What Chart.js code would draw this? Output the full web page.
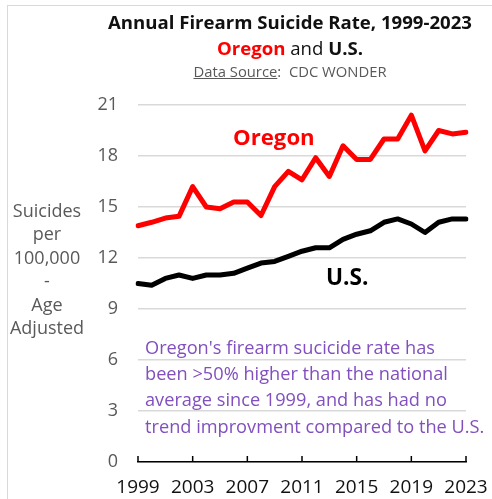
<!DOCTYPE html>
<html>
<head>
<meta charset="utf-8">
<script src="https://cdn.jsdelivr.net/npm/chart.js@4.4.1/dist/chart.umd.min.js"></script>
<style>
  html, body { margin: 0; padding: 0; background: #fff; }
  #wrap { position: relative; width: 492px; height: 499px; overflow: hidden; font-family: "Open Sans", sans-serif; }
  #frame { position: absolute; left: 7px; top: 5px; width: 500px; height: 510px; border: 1px solid #d9d9d9; box-sizing: border-box; }
  canvas { position: absolute; left: 0; top: 0; }
  .t { position: absolute; white-space: nowrap; }
  #title { left: 90px; width: 400px; top: 9px; text-align: center; font-weight: bold; font-size: 18.6px; color: #111; line-height: 26px; }
  #source { left: 90px; width: 400px; top: 60px; text-align: center; font-size: 14.8px; color: #595959; line-height: 22px; }
  #ytitle { left: 0px; width: 94px; top: 199px; text-align: center; font-size: 18px; color: #595959; line-height: 23.4px; }
  #note { left: 145px; top: 334px; font-size: 18.2px; color: #8250BE; line-height: 26.2px; }
  #lblOR { left: 233px; top: 121px; font-weight: bold; font-size: 22.2px; color: #ff0000; }
  #lblUS { left: 326px; top: 261px; font-weight: bold; font-size: 22.6px; color: #000; }
</style>
</head>
<body>
<div id="wrap">
  <div id="frame"></div>
  <canvas id="c" width="492" height="499"></canvas>
  <div class="t" id="title">Annual Firearm Suicide Rate, 1999-2023<br><span style="color:#ff0000">Oregon</span> <span style="font-weight:normal">and</span> U.S.</div>
  <div class="t" id="source"><u>Data Source</u>:&nbsp; CDC WONDER</div>
  <div class="t" id="ytitle">Suicides<br>per<br>100,000<br>-<br>Age<br>Adjusted</div>
  <div class="t" id="note">Oregon's firearm sucicide rate has<br>been &gt;50% higher than the national<br>average since 1999, and has had no<br>trend improvment compared to the U.S.</div>
  <div class="t" id="lblOR">Oregon</div>
  <div class="t" id="lblUS">U.S.</div>
</div>
<script>
const years = ["1999","2000","2001","2002","2003","2004","2005","2006","2007","2008","2009","2010","2011","2012","2013","2014","2015","2016","2017","2018","2019","2020","2021","2022","2023"];
const oregonRate = [13.9, 14.1, 14.35, 14.45, 16.2, 15.0, 14.9, 15.3, 15.3, 14.5, 16.2, 17.1, 16.6, 17.9, 16.8, 18.6, 17.8, 17.8, 19.0, 19.0, 20.4, 18.3, 19.5, 19.3, 19.4];
const usRate = [10.5, 10.4, 10.8, 11.0, 10.8, 11.0, 11.0, 11.1, 11.4, 11.7, 11.8, 12.1, 12.4, 12.6, 12.6, 13.1, 13.4, 13.6, 14.1, 14.3, 14.0, 13.5, 14.1, 14.3, 14.3];
const xTickLabels = ["1999","2003","2007","2011","2015","2019","2023"];
const yTicks = [0, 3, 6, 9, 12, 15, 18, 21];

const innerTicks = {
  id: 'innerTicks',
  afterDatasetsDraw(chart) {
    const ctx = chart.ctx, xs = chart.scales.x, bottom = chart.chartArea.bottom;
    ctx.save();
    ctx.strokeStyle = '#000';
    ctx.lineWidth = 1.5;
    xTickLabels.forEach(l => {
      const px = xs.getPixelForValue(years.indexOf(l));
      ctx.beginPath();
      ctx.moveTo(px, bottom - 6);
      ctx.lineTo(px, bottom);
      ctx.stroke();
    });
    ctx.restore();
  }
};

new Chart(document.getElementById('c'), {
  type: 'line',
  data: {
    labels: years,
    datasets: [
      { label: 'Oregon', data: oregonRate, borderColor: '#ff0000', borderWidth: 5, pointRadius: 0, tension: 0, borderJoinStyle: 'round', borderCapStyle: 'round' },
      { label: 'U.S.', data: usRate, borderColor: '#000000', borderWidth: 5, pointRadius: 0, tension: 0, borderJoinStyle: 'round', borderCapStyle: 'round' }
    ]
  },
  options: {
    responsive: false,
    animation: false,
    devicePixelRatio: 1,
    layout: { padding: { left: 0, right: 26, top: 105, bottom: 0 } },
    plugins: { legend: { display: false }, tooltip: { enabled: false }, title: { display: false } },
    scales: {
      x: {
        type: 'category',
        offset: false,
        grid: { display: false, drawTicks: false },
        border: { display: true, color: '#000', width: 1.5 },
        ticks: {
          autoSkip: false, maxRotation: 0, padding: 14,
          color: '#111', font: { family: 'Open Sans', size: 19 },
          callback: function (v) { const l = years[v]; return xTickLabels.includes(l) ? l : ''; }
        },
        afterFit: s => { s.height = 37; s.paddingLeft = 0; s.paddingRight = 0; }
      },
      y: {
        min: 0, max: 21,
        afterBuildTicks: s => { s.ticks = yTicks.map(v => ({ value: v })); },
        grid: { color: '#d9d9d9', lineWidth: 1.5, drawTicks: false },
        border: { display: false },
        ticks: { color: '#595959', padding: 20, font: { family: 'Open Sans', size: 18 } },
        afterFit: s => { s.width = 138; s.paddingTop = 0; s.paddingBottom = 0; }
      }
    }
  },
  plugins: [innerTicks]
});
</script>
</body>
</html>
